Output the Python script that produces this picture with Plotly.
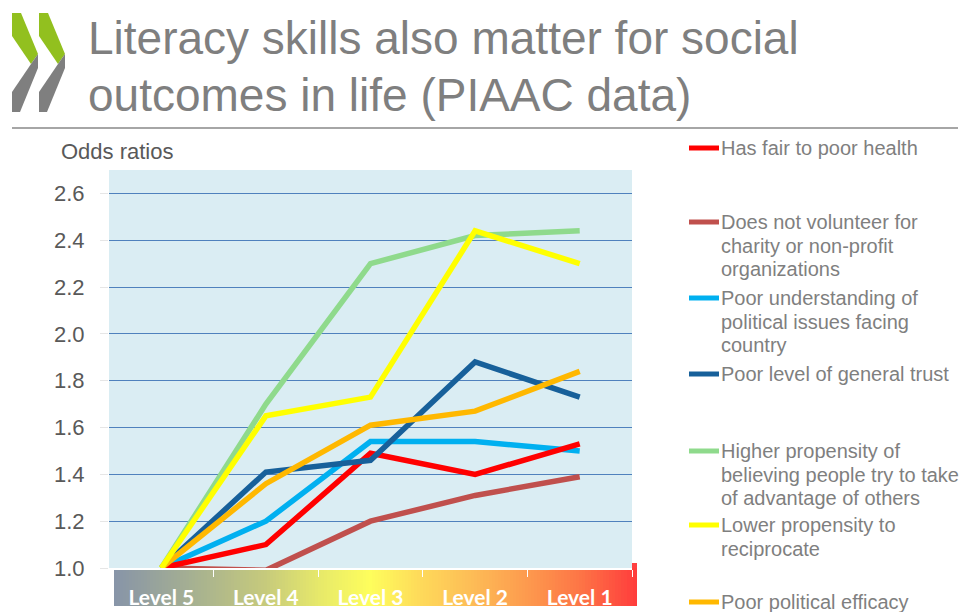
import plotly.graph_objects as go

# ---------------- data ----------------
levels = ["Level 5", "Level 4", "Level 3", "Level 2", "Level 1"]

health = [1.00, 1.10, 1.49, 1.40, 1.53]
volunteer = [1.00, 0.99, 1.20, 1.31, 1.39]
political_understanding = [1.00, 1.20, 1.54, 1.54, 1.50]
general_trust = [1.00, 1.41, 1.46, 1.88, 1.73]
advantage = [1.00, 1.70, 2.30, 2.42, 2.44]
reciprocate = [1.00, 1.65, 1.73, 2.44, 2.30]
efficacy = [1.00, 1.36, 1.61, 1.67, 1.84]

y_ticks = [1.0, 1.2, 1.4, 1.6, 1.8, 2.0, 2.2, 2.4, 2.6]
y_tick_text = ["1.0", "1.2", "1.4", "1.6", "1.8", "2.0", "2.2", "2.4", "2.6"]

name_health = "Has fair to poor health"
name_volunteer = "Does not volunteer for<br>charity or non-profit<br>organizations"
name_political = "Poor understanding of<br>political issues facing<br>country"
name_trust = "Poor level of general trust"
name_advantage = "Higher propensity of<br>believing people try to take<br>of advantage of others"
name_recip = "Lower propensity to<br>reciprocate"
name_efficacy = "Poor political efficacy"

title_lines = ["Literacy skills also matter for social", "outcomes in life (PIAAC data)"]
y_title = "Odds ratios"

# ---------------- layout geometry ----------------
W, H = 962, 612
PL, PR, PT, PB = 109, 632, 170, 568  # plot area in pixels


def px(x):
    return (x - PL) / (PR - PL)


def py(y):
    return (PB - y) / (PB - PT)


colors = {
    "health": "#ff0000",
    "volunteer": "#c0504d",
    "political": "#00b0f0",
    "trust": "#17609a",
    "advantage": "#8fda8c",
    "recip": "#ffff00",
    "efficacy": "#ffb800",
}

fig = go.Figure()

draw_order = [
    (volunteer, "volunteer", name_volunteer),
    (political_understanding, "political", name_political),
    (health, "health", name_health),
    (general_trust, "trust", name_trust),
    (efficacy, "efficacy", name_efficacy),
    (advantage, "advantage", name_advantage),
    (reciprocate, "recip", name_recip),
]
for vals, key, nm in draw_order:
    fig.add_trace(go.Scatter(
        x=levels, y=vals, mode="lines", name=nm.replace("<br>", " "),
        line=dict(color=colors[key], width=5.5), showlegend=False,
        hoverinfo="skip",
    ))

shapes = []
annotations = []

# gradient bar under the x axis
stops = [
    (114, (0x87, 0x94, 0xa8)),
    (200, (0xa9, 0xb3, 0x8f)),
    (265, (0xc6, 0xca, 0x7c)),
    (320, (0xe7, 0xe9, 0x6a)),
    (370, (0xfe, 0xfe, 0x5c)),
    (420, (0xfe, 0xda, 0x5a)),
    (474, (0xfd, 0xbb, 0x56)),
    (527, (0xfd, 0x9a, 0x4e)),
    (580, (0xfd, 0x75, 0x46)),
    (637, (0xff, 0x3c, 0x3c)),
]


def grad_color(x):
    for (x0, c0), (x1, c1) in zip(stops[:-1], stops[1:]):
        if x0 <= x <= x1:
            t = (x - x0) / (x1 - x0)
            c = [round(a + (b - a) * t) for a, b in zip(c0, c1)]
            return "rgb(%d,%d,%d)" % tuple(c)
    return "rgb(%d,%d,%d)" % stops[-1][1]


step = 3
xg = 114
while xg < 637:
    x2 = min(xg + step, 637)
    shapes.append(dict(type="rect", xref="paper", yref="paper",
                       x0=px(xg), x1=px(min(x2 + 0.6, 637)), y0=py(606), y1=py(568),
                       fillcolor=grad_color(xg + step / 2), line=dict(width=0),
                       layer="below"))
    xg = x2
# small red tab at the right end
shapes.append(dict(type="rect", xref="paper", yref="paper",
                   x0=px(632), x1=px(637), y0=py(568), y1=py(563),
                   fillcolor="#ff4040", line=dict(width=0), layer="below"))

# title underline
shapes.append(dict(type="line", xref="paper", yref="paper",
                   x0=px(12), x1=px(958), y0=py(128), y1=py(128),
                   line=dict(color="#a6a6a6", width=2)))


# OECD-like logo chevrons
def path(points):
    return "M " + " L ".join("%f,%f" % (px(a), py(b)) for a, b in points) + " Z"


for dx in (0, 27):
    green = [(12, 13), (21, 13), (38, 54), (31, 64), (12, 36)]
    gray = [(31, 64), (38, 54), (38, 68), (20, 112), (12, 112), (12, 92)]
    shapes.append(dict(type="path", xref="paper", yref="paper",
                       path=path([(a + dx, b) for a, b in green]),
                       fillcolor="#92c01f", line=dict(width=0)))
    shapes.append(dict(type="path", xref="paper", yref="paper",
                       path=path([(a + dx, b) for a, b in gray]),
                       fillcolor="#7f7f7f", line=dict(width=0)))

# title
for i, t in enumerate(title_lines):
    annotations.append(dict(text=t, xref="paper", yref="paper",
                            x=px(86), y=py(38 + i * 57), xanchor="left", yanchor="middle",
                            showarrow=False,
                            font=dict(family="Liberation Sans, Arial", size=46, color="#7f7f7f")))

# y-axis title
annotations.append(dict(text=y_title, xref="paper", yref="paper",
                        x=px(59), y=py(152), xanchor="left", yanchor="middle",
                        showarrow=False,
                        font=dict(family="Liberation Sans, Arial", size=22, color="#595959")))

# custom legend
legend_entries = [
    (name_health, "health", 148),
    (name_volunteer, "volunteer", 222),
    (name_political, "political", 298),
    (name_trust, "trust", 374),
    (name_advantage, "advantage", 451),
    (name_recip, "recip", 525),
    (name_efficacy, "efficacy", 602),
]
for nm, key, y0 in legend_entries:
    shapes.append(dict(type="line", xref="paper", yref="paper",
                       x0=px(689), x1=px(719), y0=py(y0), y1=py(y0),
                       line=dict(color=colors[key], width=5)))
    for j, ln in enumerate(nm.split("<br>")):
        annotations.append(dict(text=ln, xref="paper", yref="paper",
                                x=px(719), y=py(y0 + j * 23.6), xanchor="left", yanchor="middle",
                                showarrow=False,
                                font=dict(family="Liberation Sans, Arial", size=20, color="#7f7f7f")))

fig.update_layout(
    width=W, height=H, autosize=False,
    margin=dict(l=PL, r=W - PR, t=PT, b=H - PB, pad=0, autoexpand=False),
    paper_bgcolor="white",
    plot_bgcolor="#daedf3",
    shapes=shapes,
    annotations=annotations,
    showlegend=False,
    font=dict(family="Liberation Sans, Arial"),
)

fig.update_xaxes(
    type="category", range=[-0.5, 4.5], automargin=False,
    showgrid=False, zeroline=False,
    showline=True, linecolor="white", linewidth=1.5,
    ticks="outside", tickson="boundaries", ticklen=7, tickcolor="white", tickwidth=1,
    tickfont=dict(family="Lato, Liberation Sans", size=21, color="white", weight="bold"),
    ticklabelstandoff=10,
)
fig.update_yaxes(
    range=[1.0, 2.7], automargin=False,
    tickvals=y_ticks, ticktext=y_tick_text,
    showgrid=True, gridcolor="#4f81bd", gridwidth=1,
    zeroline=False, showline=False,
    ticks="outside", ticklen=8, tickcolor="#e6e6e6",
    tickfont=dict(family="Liberation Sans, Arial", size=22, color="#595959"),
    ticklabelstandoff=11,
)

fig.write_html(
    "out.html",
    config={"responsive": False, "displayModeBar": False},
    post_script="document.body.style.margin='0';",
)
